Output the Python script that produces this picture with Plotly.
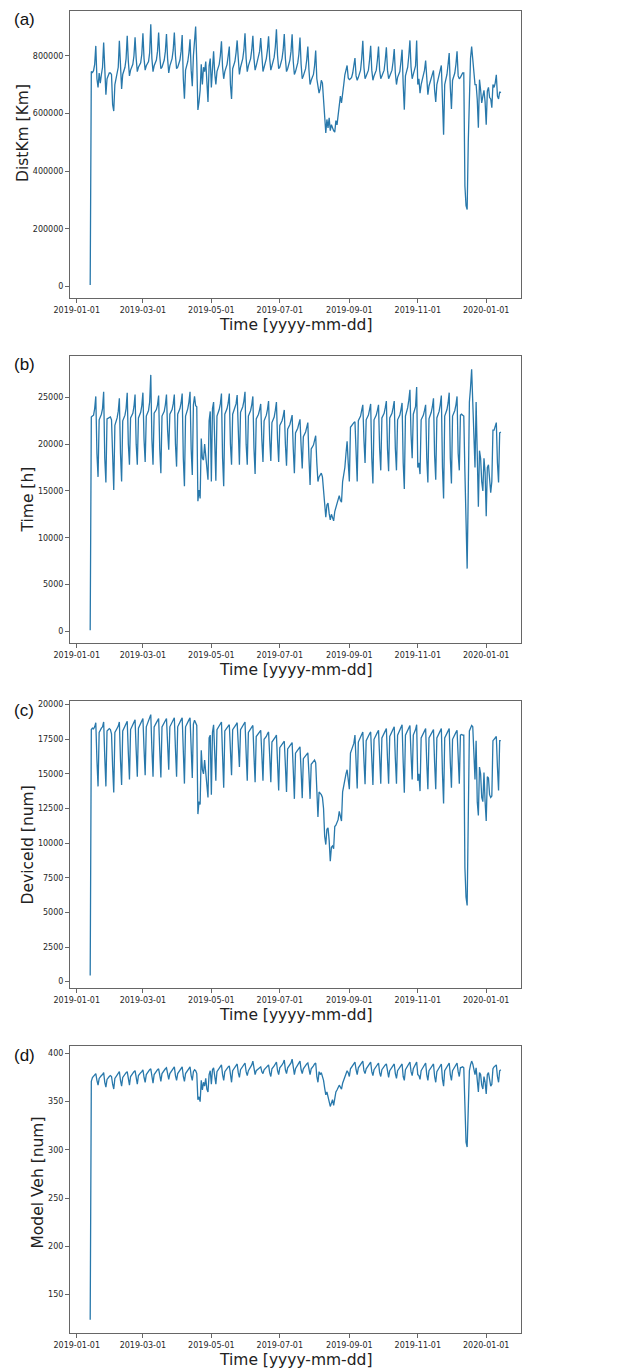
import pandas as pd
import plotly.graph_objects as go

# ---------------- data (daily, starting 2019-01-13) ----------------
start_date = "2019-01-13"

dist_km = [
    5000,
    745000, 742000, 748000, 770000, 834000, 720000, 690000,  # W0 Jan14
    740000, 705000, 735000, 760000, 846000, 720000, 665000,
    720000, 735000, 740000, 740000, 735000, 630000, 608000,
    700000, 725000, 735000, 760000, 852000, 750000, 685000,
    735000, 750000, 760000, 790000, 869000, 780000, 730000,
    750000, 765000, 770000, 800000, 864000, 790000, 745000,  # W5
    760000, 770000, 775000, 805000, 878000, 790000, 750000,
    765000, 775000, 780000, 810000, 909000, 790000, 745000,
    765000, 775000, 785000, 815000, 880000, 800000, 755000,
    760000, 770000, 785000, 815000, 875000, 790000, 740000,
    765000, 775000, 790000, 820000, 880000, 800000, 755000,  # W10
    760000, 770000, 785000, 815000, 872000, 720000, 651000,
    750000, 765000, 780000, 810000, 857000, 750000, 694000,
    800000, 840000, 901000, 780000, 612000, 640000, 680000,
    770000, 700000, 760000, 745000, 780000, 705000, 640000,
    765000, 790000, 690000, 780000, 815000, 740000, 700000,  # W15
    745000, 760000, 770000, 800000, 850000, 760000, 720000,
    745000, 760000, 770000, 800000, 832000, 700000, 650000,
    755000, 770000, 780000, 810000, 853000, 790000, 735000,
    760000, 775000, 790000, 820000, 878000, 790000, 745000,
    765000, 775000, 790000, 820000, 869000, 790000, 750000,  # W20
    765000, 780000, 790000, 815000, 861000, 790000, 745000,
    760000, 775000, 790000, 820000, 867000, 790000, 750000,
    765000, 780000, 795000, 830000, 892000, 800000, 755000,
    760000, 775000, 790000, 820000, 875000, 790000, 745000,
    755000, 770000, 785000, 815000, 874000, 780000, 735000,  # W25
    745000, 760000, 775000, 805000, 863000, 770000, 720000,
    730000, 745000, 755000, 785000, 832000, 750000, 700000,
    715000, 725000, 735000, 765000, 818000, 720000, 690000,
    670000, 685000, 715000, 705000, 648000, 613000, 532000,
    579000, 550000, 585000, 540000, 561000, 545000, 540000,  # W30
    535000, 575000, 560000, 590000, 613000, 660000, 636000,
    682000, 700000, 734000, 750000, 766000, 723000, 717000,
    720000, 725000, 740000, 760000, 792000, 730000, 715000,
    725000, 735000, 750000, 790000, 852000, 760000, 720000,
    730000, 740000, 750000, 785000, 834000, 750000, 715000,  # W35
    730000, 740000, 750000, 785000, 832000, 750000, 720000,
    730000, 740000, 750000, 785000, 829000, 750000, 720000,
    730000, 740000, 750000, 780000, 823000, 740000, 700000,
    725000, 735000, 745000, 780000, 821000, 700000, 613000,
    730000, 745000, 760000, 800000, 853000, 760000, 720000,  # W40
    735000, 750000, 765000, 853000, 700000, 720000, 670000,
    700000, 715000, 725000, 750000, 783000, 700000, 665000,
    695000, 710000, 720000, 740000, 749000, 680000, 640000,
    700000, 715000, 725000, 750000, 766000, 620000, 526000,
    700000, 720000, 735000, 770000, 809000, 690000, 615000,  # W45
    715000, 725000, 740000, 770000, 815000, 730000, 720000,
    725000, 735000, 740000, 740000, 348000, 280000, 267000,
    500000, 717000, 790000, 832000, 792000, 763000, 700000,
    700000, 648000, 550000, 717000, 682000, 636000, 660000,
    680000, 640000, 561000, 677000, 690000, 655000, 650000,  # W50
    620000, 700000, 690000, 705000, 734000, 660000, 650000,
    675000, 671000,
]

time_h = [
    100,
    22900, 23000, 23100, 23800, 25100, 19000, 16500,  # W0
    22600, 22900, 23200, 23800, 25600, 18500, 15900,
    22700, 22800, 22900, 22900, 22600, 17500, 15100,
    22000, 22400, 22800, 23500, 24900, 19000, 16000,
    22500, 22800, 23100, 23800, 25500, 20000, 17800,
    22800, 23000, 23300, 24000, 25300, 20000, 17800,  # W5
    22800, 23100, 23400, 24100, 25500, 20500, 18100,
    23000, 23300, 23600, 24500, 27400, 20500, 17800,
    23300, 23500, 23700, 24200, 25200, 19500, 16900,
    23000, 23300, 23500, 24200, 25300, 21500, 19400,
    23200, 23400, 23700, 24300, 25300, 20000, 17600,  # W10
    23200, 23500, 23800, 24400, 25400, 18500, 15500,
    23000, 23400, 23800, 24500, 25600, 19500, 16700,
    24200, 25100, 24100, 24000, 13900, 15100, 14200,
    20600, 18500, 18300, 20000, 18500, 16900, 16200,
    22500, 23500, 16000, 23800, 24500, 18500, 16100,  # W15
    23000, 23300, 23700, 24300, 25400, 18500, 15500,
    23200, 23500, 23800, 24400, 25400, 20000, 17800,
    23200, 23500, 23800, 24300, 25250, 20000, 17800,
    23400, 23700, 24000, 24600, 25600, 20000, 17800,
    23000, 23300, 23600, 24200, 25100, 19500, 16800,  # W20
    22700, 22900, 23200, 23700, 24300, 20500, 18100,
    22500, 22800, 23100, 23700, 24600, 20500, 18200,
    22300, 22600, 22900, 23600, 24500, 20500, 18100,
    22000, 22200, 22500, 23000, 23650, 20000, 17700,
    21600, 21800, 22100, 22600, 23100, 19500, 16900,  # W25
    21200, 21400, 21700, 22200, 22650, 19800, 17400,
    20800, 21000, 21300, 21800, 22300, 18500, 15650,
    19500, 19700, 19900, 20400, 20900, 18000, 16000,
    16500, 16700, 16900, 16500, 15000, 13500, 12200,
    13500, 13700, 12600, 11900, 12500, 12000, 11800,  # W30
    12800, 13300, 13700, 14200, 14500, 14000, 13800,
    16000, 16800, 17500, 19000, 20300, 18000, 16000,
    21800, 22000, 22200, 22300, 22400, 18500, 16000,
    22500, 22700, 23000, 23600, 24200, 20500, 18000,
    22600, 22800, 23100, 23700, 24300, 18500, 15800,  # W35
    22600, 22800, 23100, 23600, 24200, 19500, 17200,
    22800, 23000, 23300, 23900, 24600, 19500, 17100,
    22800, 23000, 23300, 23900, 24600, 19500, 17200,
    22600, 22800, 23100, 23700, 24400, 18000, 15200,
    23000, 23400, 23900, 24700, 25800, 21000, 18500,  # W40
    23200, 23500, 24000, 26100, 17500, 18000, 16800,
    22600, 22800, 23100, 23600, 24200, 18500, 15900,
    22700, 23000, 23400, 24000, 24900, 18800, 16200,
    22800, 23100, 23500, 24200, 25200, 17500, 14200,
    23000, 23300, 23700, 24400, 25500, 18500, 15800,  # W45
    23000, 23300, 23600, 24200, 25100, 19000, 17200,
    23100, 23200, 23100, 23000, 17000, 11000, 6700,
    15000, 24500, 26000, 28000, 24500, 20000, 17500,
    24500, 19300, 13300, 19300, 18500, 16000, 15000,
    18500, 17000, 12300, 17500, 17800, 16000, 14800,  # W50
    16000, 21500, 21500, 21800, 22300, 18000, 15900,
    21200, 21300,
]

device_id = [
    450,
    18200, 18300, 18250, 18400, 18700, 16000, 14100,  # W0
    18000, 18200, 18300, 18400, 18750, 16200, 14100,
    18100, 18200, 18270, 18200, 17900, 15500, 13660,
    18000, 18200, 18300, 18450, 18750, 16000, 14200,
    18100, 18300, 18450, 18600, 18800, 16500, 14600,
    18200, 18400, 18550, 18700, 18900, 16700, 14800,  # W5
    18300, 18500, 18650, 18800, 19000, 16800, 14900,
    18400, 18600, 18800, 19000, 19280, 16800, 14800,
    18400, 18600, 18700, 18850, 19000, 16700, 14750,
    18400, 18550, 18700, 18850, 19000, 17200, 15300,
    18400, 18550, 18700, 18900, 19050, 16800, 14800,  # W10
    18400, 18600, 18750, 18900, 19050, 16400, 14300,
    18400, 18600, 18750, 18900, 19050, 16700, 14700,
    18600, 18870, 18700, 18500, 12100, 13000, 12800,
    16700, 15300, 15000, 16000, 15300, 14200, 13300,
    17600, 17800, 13500, 18000, 18550, 16500, 14500,  # W15
    18200, 18350, 18450, 18600, 18750, 16300, 14000,
    18100, 18250, 18350, 18450, 18550, 16800, 14900,
    18200, 18300, 18400, 18550, 18700, 17200, 15500,
    18200, 18350, 18450, 18600, 18750, 16500, 14500,
    18000, 18150, 18250, 18400, 18500, 16300, 14400,  # W20
    17700, 17800, 17900, 18050, 18150, 16400, 14500,
    17500, 17600, 17700, 17900, 18030, 16300, 14400,
    17300, 17400, 17500, 17650, 17800, 15800, 13800,
    16900, 17000, 17100, 17250, 17360, 15600, 13700,
    16800, 16900, 17000, 17150, 17260, 15300, 13200,  # W25
    16500, 16600, 16700, 16850, 16950, 15200, 13250,
    16100, 16200, 16300, 16400, 16520, 15000, 13200,
    15700, 15800, 15900, 16000, 15800, 13500, 11900,
    13700, 13600, 13500, 13300, 12500, 10500, 9900,
    11000, 11100, 10200, 8700, 9700, 9800, 9600,  # W30
    11200, 11300, 11500, 11700, 12300, 11900, 11600,
    13700, 14200, 14700, 15000, 15300, 14700, 13900,
    16500, 16700, 16900, 17200, 17800, 15500, 13950,
    17300, 17500, 17700, 17850, 18030, 16000, 14260,
    17400, 17600, 17750, 17900, 18030, 16000, 14200,  # W35
    17500, 17700, 17850, 18000, 18150, 16100, 14300,
    17600, 17800, 17950, 18100, 18270, 16100, 14300,
    17700, 17900, 18050, 18200, 18400, 16100, 14300,
    17800, 18000, 18200, 18350, 18550, 15800, 13640,
    17800, 18000, 18150, 18300, 18500, 16400, 14600,  # W40
    17800, 18000, 18200, 18550, 14500, 15000, 13760,
    17600, 17800, 17950, 18100, 18270, 15800, 13900,
    17600, 17750, 17900, 18050, 18200, 15800, 13900,
    17600, 17800, 17950, 18100, 18270, 15000, 12870,
    17600, 17800, 17950, 18100, 18270, 15800, 14000,  # W45
    17500, 17700, 17850, 18000, 18150, 16000, 14300,
    17800, 17850, 17800, 17800, 8200, 6100, 5500,
    12000, 18100, 18300, 18500, 18400, 16000, 14600,
    17400, 13000, 12000, 15500, 15000, 13300, 13000,
    15100, 13000, 11600, 14800, 14700, 13500, 13300,  # W50
    13400, 17400, 17500, 17600, 17700, 15500, 13800,
    17400, 17400,
]

model_veh = [
    124,
    371, 375, 376, 377, 379, 372, 367,  # W0
    374, 376, 377, 378, 380, 370, 365,
    373, 375, 376, 377, 376, 368, 363,
    374, 376, 378, 379, 381, 372, 366,
    375, 377, 379, 380, 381, 373, 367,
    376, 378, 379, 381, 382, 374, 368,  # W5
    377, 379, 380, 381, 383, 375, 370,
    378, 380, 381, 383, 384, 375, 369,
    378, 380, 382, 383, 384, 376, 371,
    379, 381, 382, 384, 385, 378, 373,
    379, 381, 383, 384, 386, 377, 372,  # W10
    379, 381, 383, 385, 386, 376, 371,
    379, 381, 383, 385, 386, 377, 372,
    381, 383, 382, 379, 352, 355, 350,
    372, 362, 370, 366, 374, 363, 360,
    378, 382, 368, 383, 385, 375, 368,  # W15
    381, 383, 385, 386, 388, 378, 372,
    381, 383, 384, 386, 387, 376, 370,
    382, 384, 385, 387, 389, 380, 375,
    383, 385, 386, 388, 390, 381, 377,
    382, 384, 386, 388, 392, 382, 378,  # W20
    382, 383, 384, 385, 386, 381, 379,
    383, 384, 385, 386, 388, 380, 376,
    384, 385, 387, 389, 391, 382, 378,
    385, 386, 388, 390, 393, 383, 379,
    385, 387, 388, 390, 394, 382, 378,  # W25
    384, 386, 388, 390, 392, 383, 379,
    384, 386, 387, 389, 390, 381, 378,
    384, 385, 387, 389, 390, 376, 370,
    381, 378, 380, 376, 372, 364, 357,
    360, 356, 350, 345, 348, 352, 346,  # W30
    355, 360, 362, 364, 367, 365, 363,
    369, 372, 375, 378, 382, 380, 376,
    384, 386, 388, 390, 391, 383, 378,
    385, 387, 389, 390, 392, 382, 379,
    384, 386, 388, 390, 391, 381, 377,  # W35
    383, 385, 387, 388, 390, 380, 376,
    383, 385, 387, 388, 389, 379, 375,
    382, 384, 386, 387, 389, 379, 374,
    382, 384, 386, 388, 389, 376, 372,
    383, 385, 387, 389, 391, 381, 377,  # W40
    384, 386, 388, 391, 378, 377, 373,
    382, 384, 386, 388, 390, 378, 372,
    382, 384, 386, 388, 389, 376, 370,
    381, 383, 385, 387, 389, 373, 366,
    382, 384, 386, 388, 390, 378, 372,  # W45
    382, 384, 386, 388, 390, 381, 376,
    385, 386, 386, 385, 330, 308, 303,
    340, 382, 388, 392, 389, 384, 378,
    385, 372, 360, 380, 378, 367, 363,
    376, 370, 358, 378, 380, 372, 366,  # W50
    368, 384, 386, 387, 388, 376, 370,
    382, 383,
]

x_ticks = ["2019-01-01", "2019-03-01", "2019-05-01", "2019-07-01",
           "2019-09-01", "2019-11-01", "2020-01-01"]
panel_labels = ["(a)", "(b)", "(c)", "(d)"]
y_titles = ["DistKm [Km]", "Time [h]", "DeviceId [num]", "Model Veh [num]"]
x_title = "Time [yyyy-mm-dd]"
y_ticks = [
    [0, 200000, 400000, 600000, 800000],
    [0, 5000, 10000, 15000, 20000, 25000],
    [0, 2500, 5000, 7500, 10000, 12500, 15000, 17500, 20000],
    [150, 200, 250, 300, 350, 400],
]

# ---------------- figure ----------------
series = [dist_km, time_h, device_id, model_veh]
for s in series:
    assert len(s) == len(dist_km), len(s)
dates = pd.date_range(start_date, periods=len(dist_km), freq="D")

OFF = 8  # page body margin of the browser
W, H = 631 - OFF, 1370 - OFF
ML, MR, MT, MB = 70 - OFF, 110, 11 - OFF, 37
PH = H - MT - MB
PW = W - ML - MR


def py(ypx):  # ypx: page pixel from reference
    return (H - MB - (ypx - OFF)) / PH


def px(xpx):
    return ((xpx - OFF) - ML) / PW


panel_px = [(11, 298), (356, 643), (701, 988), (1046, 1333)]
y_ranges = [[-40000, 955000], [-1250, 29420], [-456, 20264], [110.3, 407.6]]

line_color = "#2878ab"
frame_color = "#666666"
font_family = "DejaVu Sans"

fig = go.Figure()
layout = dict(
    width=W, height=H,
    margin=dict(l=ML, r=MR, t=MT, b=MB),
    paper_bgcolor="white", plot_bgcolor="white",
    showlegend=False,
    font=dict(family=font_family, color="#222222"),
    annotations=[],
)

for i, vals in enumerate(series):
    n = "" if i == 0 else str(i + 1)
    fig.add_trace(go.Scatter(
        x=dates, y=vals, mode="lines",
        line=dict(color=line_color, width=1.3),
        xaxis="x" + n, yaxis="y" + n, hoverinfo="skip",
    ))
    top, bot = panel_px[i]
    common = dict(showline=True, mirror=True, linecolor=frame_color, linewidth=1,
                  ticks="outside", ticklen=4, tickwidth=1, tickcolor=frame_color,
                  showgrid=False, zeroline=False, automargin=False,
                  tickfont=dict(family=font_family, size=8, color="#262626"))
    layout["xaxis" + n] = dict(
        common, domain=[0, 1], anchor="y" + n, type="date",
        range=["2018-12-26", "2020-02-01"],
        tickvals=x_ticks, ticktext=x_ticks,
    )
    layout["yaxis" + n] = dict(
        common, domain=[py(bot), py(top)], anchor="x" + n,
        range=y_ranges[i], tickvals=y_ticks[i], tickformat="d",
    )
    # panel label
    layout["annotations"].append(dict(
        text=panel_labels[i], xref="paper", yref="paper",
        x=px(12), y=py(top + 9), xanchor="left", yanchor="middle",
        showarrow=False, font=dict(family="Liberation Sans, Arial", size=17, color="#111111"),
    ))
    # x title
    layout["annotations"].append(dict(
        text=x_title, xref="paper", yref="paper",
        x=0.5, y=py(bot + 27), xanchor="center", yanchor="middle",
        showarrow=False, font=dict(family=font_family, size=15.5, color="#222222"),
    ))

# y titles
y_title_pos = [(23, 133), (27.5, 500), (27.5, 845), (37.5, 1183)]
for i, t in enumerate(y_titles):
    xx, yy = y_title_pos[i]
    layout["annotations"].append(dict(
        text=t, xref="paper", yref="paper", x=px(xx), y=py(yy),
        xanchor="center", yanchor="middle", textangle=-90,
        showarrow=False, font=dict(family=font_family, size=15.5, color="#222222"),
    ))

fig.update_layout(layout)
fig.write_html("out.html")
